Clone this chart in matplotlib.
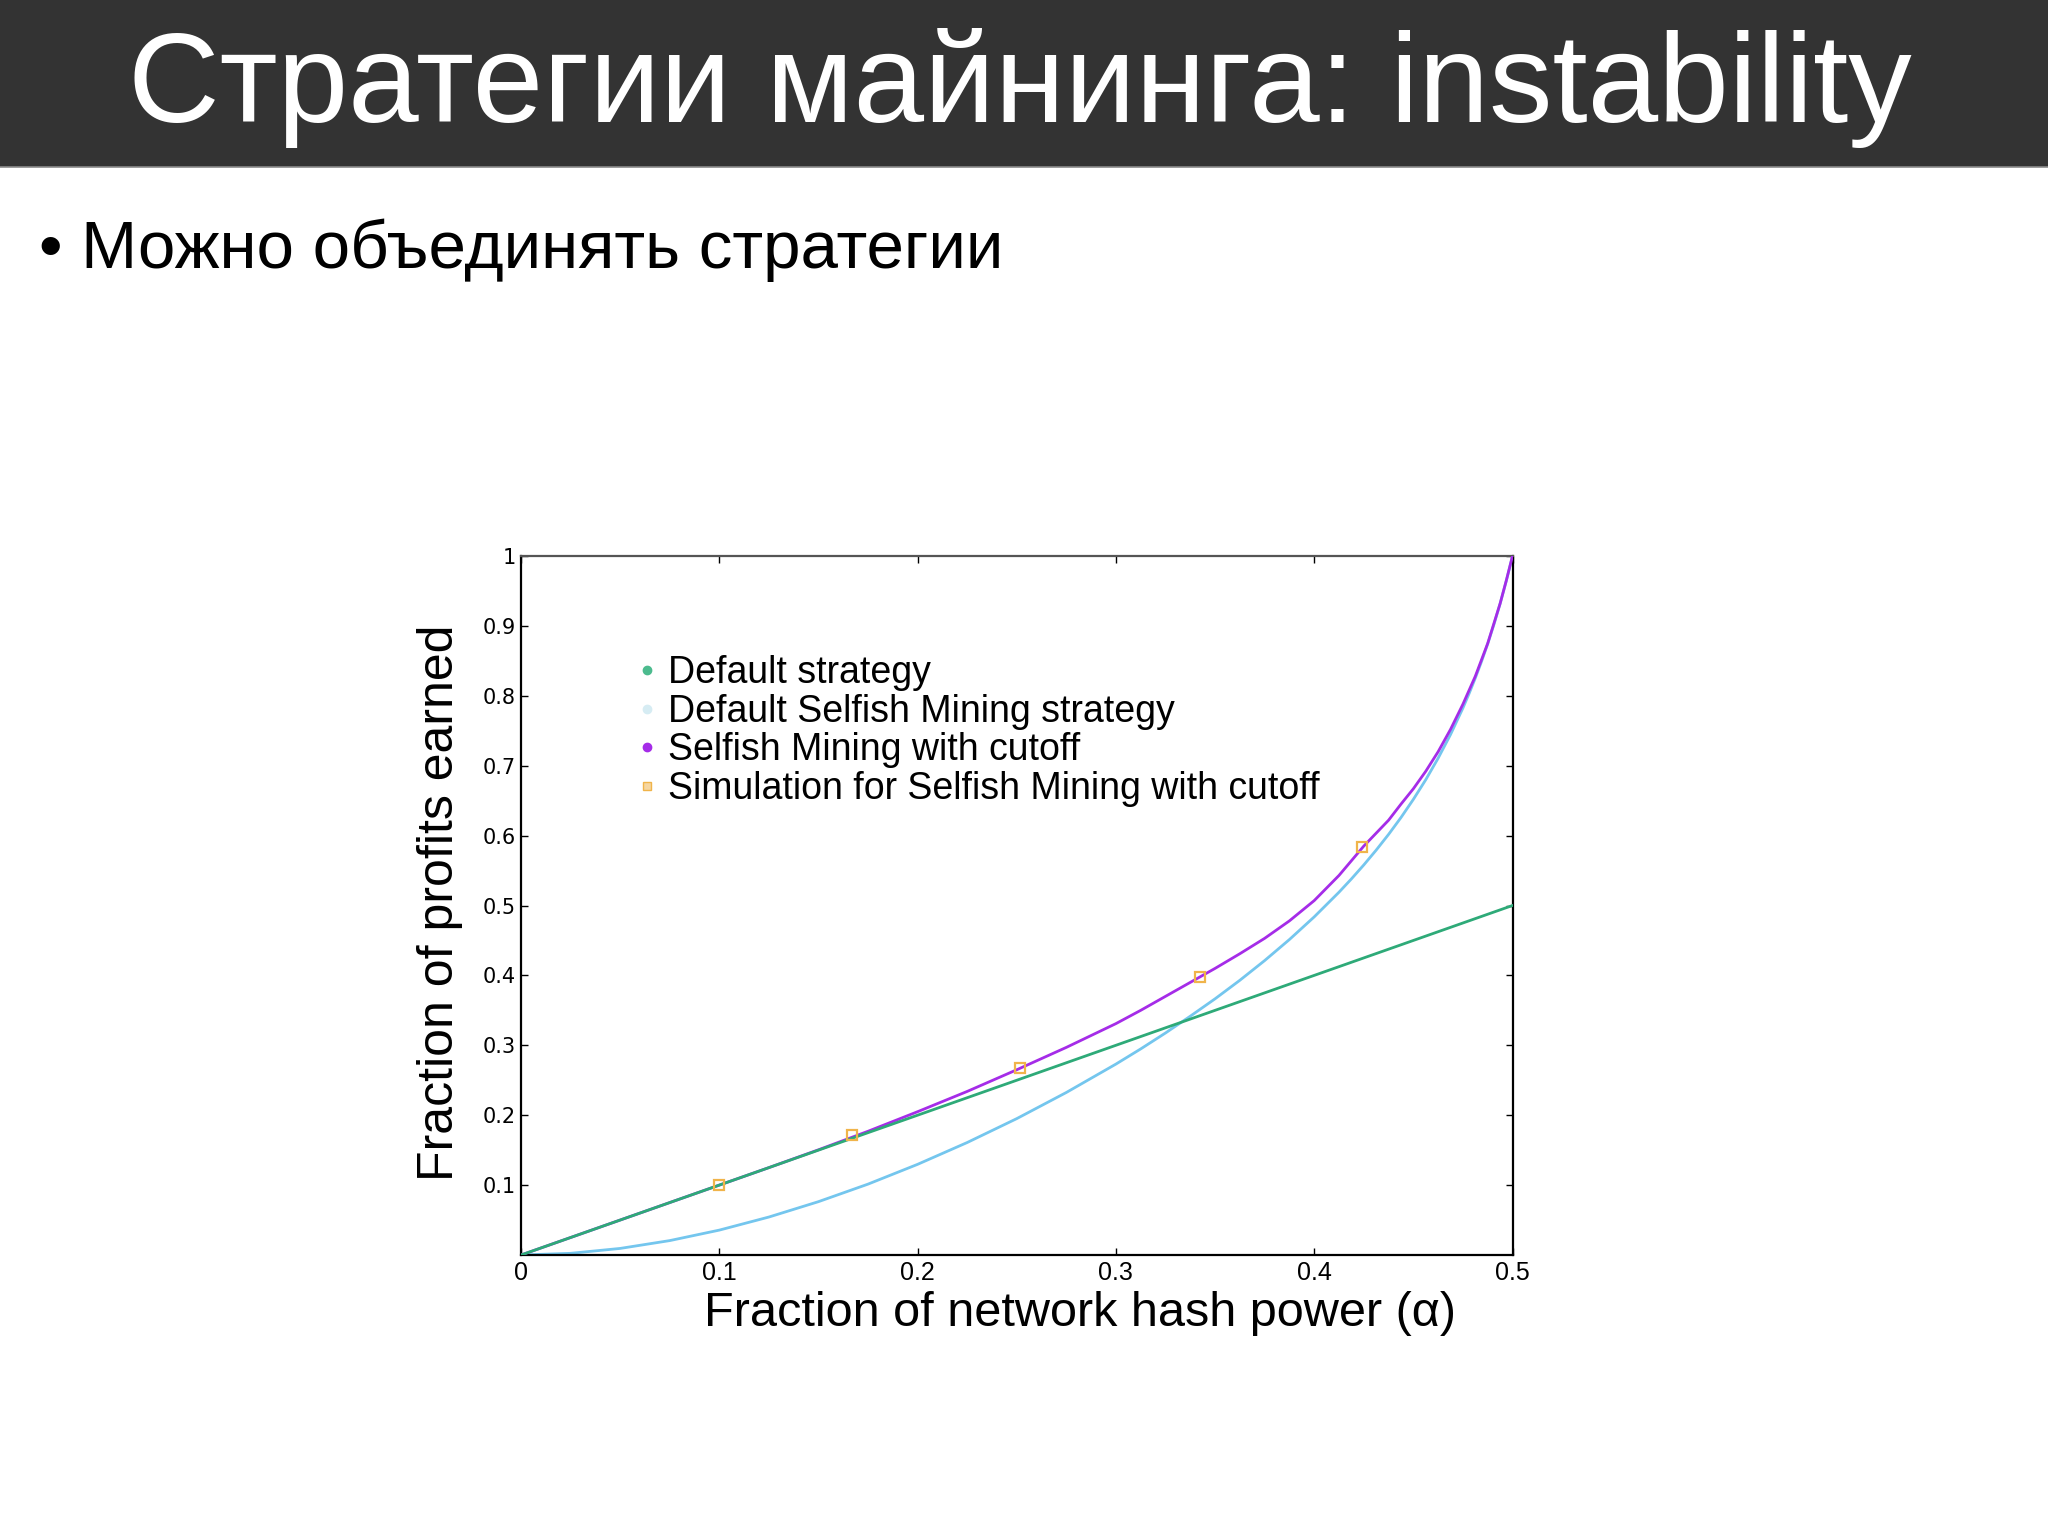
import matplotlib
matplotlib.use("Agg")
import matplotlib.pyplot as plt
from matplotlib.lines import Line2D

# ---- data ----
default_x = [0.0, 0.1, 0.2, 0.3, 0.4, 0.5]
default_y = [0.0, 0.1, 0.2, 0.3, 0.4, 0.5]

selfish_x = [0.0, 0.025, 0.05, 0.075, 0.1, 0.125, 0.15, 0.175, 0.2, 0.225, 0.25,
             0.275, 0.3, 0.3125, 0.325, 0.3375, 0.35, 0.3625, 0.375, 0.3875, 0.4,
             0.4125, 0.41875, 0.425, 0.43125, 0.4375, 0.44375, 0.45, 0.45625, 0.4625,
             0.46875, 0.475, 0.478125, 0.48125, 0.484375, 0.4875, 0.490625, 0.49375,
             0.496875, 0.5]
selfish_y = [0.0, 0.0024, 0.0094, 0.0206, 0.0356, 0.0543, 0.0763, 0.1014, 0.1297,
             0.1609, 0.1951, 0.2325, 0.2731, 0.2948, 0.3176, 0.3416, 0.3665, 0.393,
             0.4212, 0.4513, 0.4837, 0.519, 0.538, 0.558, 0.5792, 0.6017, 0.6258,
             0.6518, 0.6799, 0.7107, 0.7446, 0.7825, 0.8033, 0.8254, 0.849, 0.8744,
             0.9019, 0.9317, 0.9643, 1.0]

cutoff_x = [0.0, 0.05, 0.1, 0.125, 0.15, 0.175, 0.2, 0.225, 0.25, 0.275, 0.3, 0.3125,
            0.325, 0.3375, 0.35, 0.3625, 0.375, 0.3875, 0.4, 0.4125, 0.425, 0.4375,
            0.44375, 0.45, 0.45625, 0.4625, 0.46875, 0.475, 0.48125, 0.4875, 0.49375,
            0.496875, 0.5]
cutoff_y = [0.0, 0.05, 0.1, 0.125, 0.1505, 0.177, 0.205, 0.234, 0.265, 0.297, 0.331,
            0.35, 0.37, 0.39, 0.41, 0.431, 0.453, 0.478, 0.507, 0.543, 0.585, 0.622,
            0.645, 0.667, 0.692, 0.72, 0.752, 0.788, 0.828, 0.875, 0.932, 0.965, 1.0]

sim_x = [0.1, 0.1667, 0.2517, 0.3424, 0.424]
sim_y = [0.100, 0.172, 0.268, 0.398, 0.584]

x_ticks = [0, 0.1, 0.2, 0.3, 0.4, 0.5]
x_tick_labels = ["0", "0.1", "0.2", "0.3", "0.4", "0.5"]
y_ticks = [0.1, 0.2, 0.3, 0.4, 0.5, 0.6, 0.7, 0.8, 0.9, 1.0]
y_tick_labels = ["0.1", "0.2", "0.3", "0.4", "0.5", "0.6", "0.7", "0.8", "0.9", "1"]

legend_labels = ["Default strategy", "Default Selfish Mining strategy",
                 "Selfish Mining with cutoff", "Simulation for Selfish Mining with cutoff"]

title_text = "Стратегии майнинга: instability"
bullet_text = "• Можно объединять стратегии"

# ---- colours ----
c_green = "#2eaa78"
c_green_dot = "#4cbb8e"
c_blue = "#74c6ee"
c_blue_dot = "#d6ecf3"
c_purple = "#a52ce8"
c_orange = "#f0b44a"

plt.rcParams["font.family"] = ["Liberation Sans", "DejaVu Sans"]

W, H = 2048, 1535
fig = plt.figure(figsize=(W / 100, H / 100), dpi=100)
fig.patch.set_facecolor("white")

# title bar
bar_h = 167 / H
fig.patches.append(plt.Rectangle((0, 1 - bar_h), 1, bar_h, transform=fig.transFigure,
                                 facecolor="#333333", edgecolor="none", zorder=0))
fig.add_artist(Line2D([0, 1], [1 - bar_h, 1 - bar_h], transform=fig.transFigure,
                      color="#8a8a8a", lw=1.2))

t_title = fig.text(1020 / W, 1 - 88 / H, title_text, color="white", fontsize=80,
                   ha="center", va="center")
t_bullet = fig.text(39 / W, 1 - 250 / H, bullet_text, color="black", fontsize=46,
                    ha="left", va="center")

# fit widths
fig.canvas.draw()
r = fig.canvas.get_renderer()
for t, target in ((t_title, 1786), (t_bullet, 964)):
    bb = t.get_window_extent(r)
    t.set_fontsize(t.get_fontsize() * target / bb.width)

# axes
ax = fig.add_axes([521 / W, 280 / H, 991.5 / W, 699 / H])
ax.plot(selfish_x, selfish_y, color=c_blue, lw=2.0, zorder=2, solid_joinstyle="round")
ax.plot(cutoff_x, cutoff_y, color=c_purple, lw=2.0, zorder=3, solid_joinstyle="round")
ax.plot(default_x, default_y, color=c_green, lw=2.0, zorder=4)
ax.plot(sim_x, sim_y, linestyle="none", marker="s", markersize=7.5,
        markerfacecolor="none", markeredgecolor=c_orange, markeredgewidth=1.6, zorder=5)

ax.set_xlim(0, 0.5)
ax.set_ylim(0, 1)
ax.set_xticks(x_ticks)
ax.set_xticklabels(x_tick_labels, fontsize=18)
ax.set_yticks(y_ticks)
ax.set_yticklabels(y_tick_labels, fontsize=15, family=["DejaVu Sans"])
ax.tick_params(direction="in", length=5, width=1, top=True, right=True,
               pad=4, colors="black")
for s in ax.spines.values():
    s.set_linewidth(1.6)
    s.set_color("black")
ax.spines["top"].set_color("#555555")

ax.set_xlabel("Fraction of network hash power (α)", fontsize=35)
ax.set_ylabel("Fraction of profits earned", fontsize=36)
ax.xaxis.set_label_coords(0.564, -0.052)
ax.yaxis.set_label_coords(-0.058, 0.504)

handles = [
    Line2D([], [], linestyle="none", marker="o", markersize=6, color=c_green_dot),
    Line2D([], [], linestyle="none", marker="o", markersize=6, color=c_blue_dot),
    Line2D([], [], linestyle="none", marker="o", markersize=6, color=c_purple),
    Line2D([], [], linestyle="none", marker="s", markersize=6, markerfacecolor="#f6d6a0",
           markeredgecolor=c_orange),
]
ax.legend(handles, legend_labels, loc="upper left", bbox_to_anchor=(0.097, 0.885),
          frameon=False, fontsize=27, handlelength=0.6, handletextpad=0.25,
          labelspacing=0.07, borderpad=0)

fig.savefig("out.png", dpi=100)
